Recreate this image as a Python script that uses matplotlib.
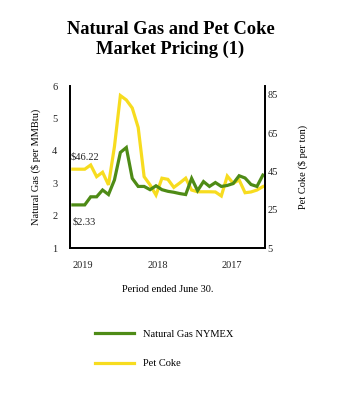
import matplotlib
matplotlib.use("Agg")
import matplotlib.pyplot as plt
from matplotlib.lines import Line2D

# monthly prices, newest (June 2019) on the left
gas_prices = [2.33, 2.33, 2.33, 2.58, 2.58, 2.79, 2.65, 3.10, 3.95, 4.10,
              3.15, 2.90, 2.90, 2.80, 2.92, 2.80, 2.75, 2.72, 2.68, 2.65,
              3.15, 2.77, 3.05, 2.90, 3.02, 2.90, 2.93, 2.99, 3.23, 3.16,
              2.96, 2.90, 3.25]
coke_prices = [46.22, 46.2, 46.2, 48.4, 42.3, 44.6, 38.0, 58.0, 84.7, 82.4,
               78.2, 68.0, 42.3, 38.0, 32.7, 41.5, 40.9, 36.7, 39.0, 41.5,
               35.3, 34.4, 34.4, 34.4, 34.3, 32.2, 42.6, 38.8, 40.6, 33.9,
               34.3, 35.3, 37.1]
months = list(range(len(gas_prices)))

year_ticks = [1.7, 14.3, 26.8]
year_labels = ["2019", "2018", "2017"]
gas_ticks = [1, 2, 3, 4, 5, 6]
coke_ticks = [5, 25, 45, 65, 85]

green = "#4e8b16"
yellow = "#f7dc1f"
serif = ["Liberation Serif", "DejaVu Serif"]
plt.rcParams["font.family"] = serif

fig = plt.figure(figsize=(3.41, 4.0), dpi=100)
ax = fig.add_axes([0.205, 0.38, 0.572, 0.405])
ax2 = ax.twinx()

ax2.plot(months, coke_prices, color=yellow, lw=2.3, solid_joinstyle="miter")
ax.plot(months, gas_prices, color=green, lw=2.3, solid_joinstyle="miter")
ax.set_zorder(ax2.get_zorder() + 1)
ax.patch.set_visible(False)

ax.set_xlim(-0.5, 32.35)
ax.set_ylim(1, 6)
ax2.set_ylim(5, 89.7)
ax.set_yticks(gas_ticks)
ax2.set_yticks(coke_ticks)
ax.set_xticks(year_ticks)
ax.set_xticklabels(year_labels)

for a in (ax, ax2):
    a.spines["top"].set_visible(False)
    for s in ("left", "right", "bottom"):
        a.spines[s].set_linewidth(1.3)
        a.spines[s].set_color("black")
    a.tick_params(length=0, labelsize=7.5, colors="#222222")
ax.tick_params(axis="y", pad=9)
ax.tick_params(axis="x", pad=9)
ax2.tick_params(axis="y", pad=2)

ax.set_ylabel("Natural Gas ($ per MMBtu)", fontsize=7.5, labelpad=8)
ax2.set_ylabel("Pet Coke ($ per ton)", fontsize=7.5, labelpad=14)
ax.set_xlabel("Period ended June 30.", fontsize=7.5, labelpad=11)

ax2.text(-0.4, coke_prices[0] + 4, "$%.2f" % coke_prices[0], fontsize=7.5,
         color="#222222", va="bottom")
ax.text(0.0, gas_prices[0] - 0.38, "$%.2f" % gas_prices[0], fontsize=7.5,
        color="#222222", va="top")

fig.text(0.5, 0.948, "Natural Gas and Pet Coke\nMarket Pricing (1)",
         ha="center", va="top", fontsize=13.3, fontweight="bold",
         linespacing=1.2)

handles = [Line2D([], [], color=green, lw=2.3), Line2D([], [], color=yellow, lw=2.3)]
fig.legend(handles, ["Natural Gas NYMEX", "Pet Coke"], loc="upper left",
           bbox_to_anchor=(0.25, 0.2), frameon=False, fontsize=7.5,
           handlelength=3.8, handletextpad=0.8, labelspacing=1.95)

fig.savefig("out.png", dpi=100)
